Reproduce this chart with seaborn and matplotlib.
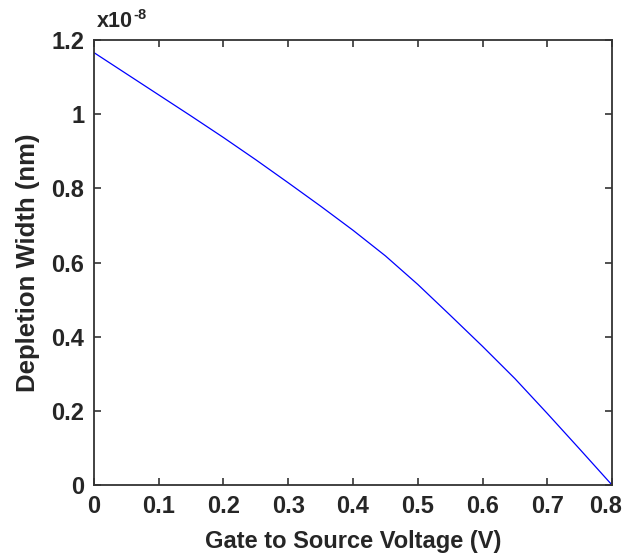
import numpy as np
import pandas as pd
import matplotlib
matplotlib.use('Agg')
import matplotlib.pyplot as plt
import matplotlib.transforms as mtransforms
import seaborn as sns

# gate to source voltage (V) and depletion width (x1e-8)
vgs = [0.0, 0.05, 0.1, 0.15, 0.2, 0.25, 0.3, 0.35, 0.4,
       0.45, 0.5, 0.55, 0.6, 0.65, 0.7, 0.75, 0.8]
width_e8 = [1.166, 1.109, 1.052, 0.995, 0.937, 0.877, 0.815, 0.752, 0.687,
            0.618, 0.541, 0.458, 0.374, 0.287, 0.193, 0.097, 0.0]

x_ticks = [0, 0.1, 0.2, 0.3, 0.4, 0.5, 0.6, 0.7, 0.8]
x_tick_labels = ['0', '0.1', '0.2', '0.3', '0.4', '0.5', '0.6', '0.7', '0.8']
y_ticks = [0, 0.2, 0.4, 0.6, 0.8, 1.0, 1.2]
y_tick_labels = ['0', '0.2', '0.4', '0.6', '0.8', '1', '1.2']

df = pd.DataFrame({'vgs': vgs, 'width': width_e8})

sns.set_style('ticks')
plt.rcParams['font.family'] = ['Liberation Sans', 'DejaVu Sans']

fig = plt.figure(figsize=(6.24, 5.55), dpi=100)
ax = fig.add_axes([0.1506, 0.1261, 0.8302, 0.8018])

sns.lineplot(data=df, x='vgs', y='width', color='#0000ff', linewidth=0.9, ax=ax)

ax.set_xlim(0, 0.8)
ax.set_ylim(0, 1.2)
ax.set_xticks(x_ticks)
ax.set_xticklabels(x_tick_labels)
ax.set_yticks(y_ticks)
ax.set_yticklabels(y_tick_labels)

for s in ax.spines.values():
    s.set_visible(True)
    s.set_linewidth(1.3)
    s.set_color('#333333')

ax.tick_params(direction='in', length=5, width=1.2, color='#333333',
               top=True, right=True, labelsize=17)
ax.tick_params(axis='x', pad=7)
ax.tick_params(axis='y', pad=7)
for lab in ax.get_xticklabels() + ax.get_yticklabels():
    lab.set_fontweight('bold')

# keep the last x label inside the figure
last = ax.get_xticklabels()[-1]
last.set_transform(last.get_transform() +
                   mtransforms.ScaledTranslation(-6 / 100, 0, fig.dpi_scale_trans))

ax.set_xlabel('Gate to Source Voltage (V)', fontsize=17, fontweight='bold', labelpad=9)
ax.set_ylabel('Depletion Width (nm)', fontsize=18.5, fontweight='bold', labelpad=8)

# exponent label like matlab
t = ax.text(0.006, 1.03, 'x10', transform=ax.transAxes,
            fontsize=15.5, fontweight='bold', ha='left', va='baseline')
ax.annotate('-8', xy=(1, 0.45), xycoords=t, fontsize=10.5, fontweight='bold',
            ha='left', va='bottom')

fig.savefig('out.png', dpi=100)
